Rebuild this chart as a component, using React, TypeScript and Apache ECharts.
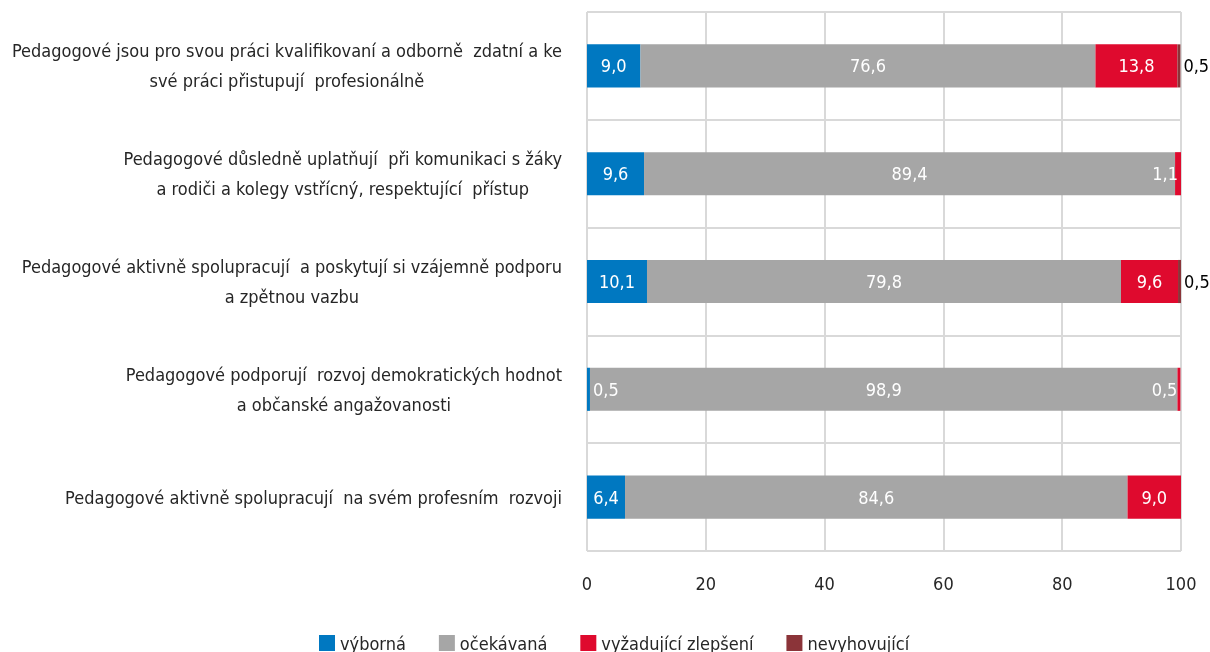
import React, { useEffect, useRef } from "react";
import * as echarts from "echarts";

const categories: string[] = [
  "Pedagogové jsou pro svou práci kvalifikovaní a odborně  zdatní a ke\nsvé práci přistupují  profesionálně",
  "Pedagogové důsledně uplatňují  při komunikaci s žáky\na rodiči a kolegy vstřícný, respektující  přístup",
  "Pedagogové aktivně spolupracují  a poskytují si vzájemně podporu\na zpětnou vazbu",
  "Pedagogové podporují  rozvoj demokratických hodnot\na občanské angažovanosti",
  "Pedagogové aktivně spolupracují  na svém profesním  rozvoji",
];

const seriesNames: string[] = ["výborná", "očekávaná", "vyžadující zlepšení", "nevyhovující"];
const vyborna: number[] = [9.0, 9.6, 10.1, 0.5, 6.4];
const ocekavana: number[] = [76.6, 89.4, 79.8, 98.9, 84.6];
const vyzadujici: number[] = [13.8, 1.1, 9.6, 0.5, 9.0];
const nevyhovujici: (number | null)[] = [0.5, null, 0.5, null, null];

const xTicks = { min: 0, max: 100, interval: 20 };

const colors = ["#0078c1", "#a6a6a6", "#df0a2e", "#8b3439"];
const FONT = "'DejaVu Sans Condensed', 'DejaVu Sans', sans-serif";
const FS = 18;

const fmt = (v: number) => v.toFixed(1).replace(".", ",");

export default function App() {
  const ref = useRef<HTMLDivElement>(null);
  useEffect(() => {
    if (!ref.current) return;
    const chart = echarts.init(ref.current, null, { renderer: "svg" });
    const labelBase = {
      show: true,
      color: "#ffffff",
      fontSize: FS,
      fontFamily: FONT,
      formatter: (p: any) => fmt(p.value),
    };
    const mk = (name: string, vals: (number | null)[], idx: number, label: any, overrides: Record<number, any> = {}) => ({
      name,
      type: "bar",
      stack: "total",
      barWidth: "40%",
      itemStyle: { color: colors[idx] },
      label,
      data: vals.map((v, i) =>
        overrides[i] ? { value: v, label: overrides[i] } : v
      ),
    });
    chart.setOption({
      animation: false,
      textStyle: { fontFamily: FONT },
      grid: { left: 587, right: 29, top: 12, bottom: 101, containLabel: false, outerBoundsMode: "none" },
      legend: {
        data: seriesNames,
        top: 634,
        left: 319,
        padding: 0,
        itemWidth: 16,
        itemHeight: 16,
        itemGap: 33,
        icon: "rect",
        textStyle: { fontSize: FS, color: "#262626", fontFamily: FONT },
      },
      xAxis: {
        type: "value",
        min: xTicks.min,
        max: xTicks.max,
        interval: xTicks.interval,
        axisLine: { show: false },
        axisTick: { show: false },
        splitLine: { lineStyle: { color: "#d9d9d9", width: 2 } },
        axisLabel: { fontSize: FS, color: "#262626", fontFamily: FONT, margin: 23 },
      },
      yAxis: {
        type: "category",
        data: categories,
        inverse: true,
        axisLine: { show: false },
        axisTick: { show: false },
        splitLine: { show: true, lineStyle: { color: "#d9d9d9", width: 2 } },
        axisLabel: {
          margin: 25,
          align: "right",
          fontFamily: FONT,
          formatter: (v: string) => v.split("\n").map((l) => `{c|${l}}`).join("\n"),
          rich: {
            c: { align: "center", fontSize: FS, color: "#262626", fontFamily: FONT, lineHeight: 30 },
          },
        },
      },
      series: [
        mk(seriesNames[0], vyborna, 0, { ...labelBase, position: "inside" }, { 3: { position: "insideLeft", distance: 6 } }),
        mk(seriesNames[1], ocekavana, 1, { ...labelBase, position: "inside" }),
        mk(seriesNames[2], vyzadujici, 2, { ...labelBase, position: "inside" }, {
          1: { position: "insideRight", distance: 3 },
          3: { position: "insideRight", distance: 3 },
        }),
        mk(seriesNames[3], nevyhovujici, 3, { ...labelBase, color: "#000000", position: "right", distance: 3 }),
      ],
    });
    return () => chart.dispose();
  }, []);
  return <div ref={ref} style={{ position: "fixed", left: 0, top: 0, width: 1210, height: 652 }} />;
}
